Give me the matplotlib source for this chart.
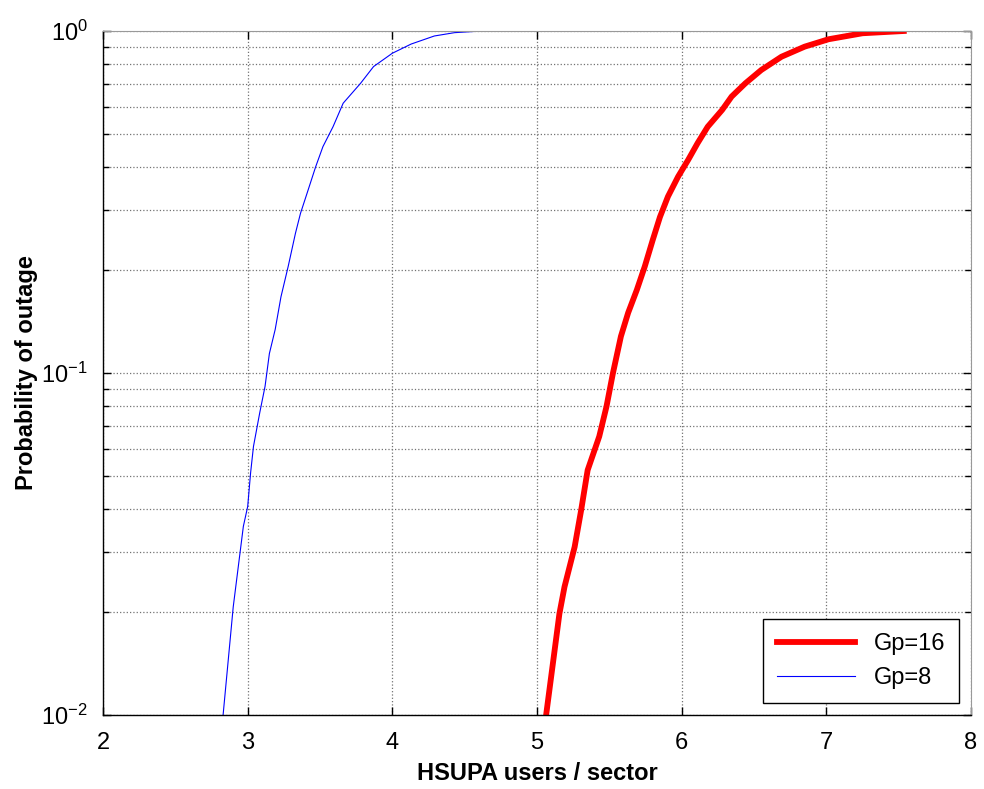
import matplotlib
matplotlib.use("Agg")
import matplotlib.pyplot as plt
from matplotlib.ticker import LogLocator, NullFormatter

plt.rcParams['font.family'] = ['Liberation Sans', 'DejaVu Sans']
plt.rcParams['mathtext.default'] = 'regular'
plt.rcParams['axes.unicode_minus'] = False

# Outage probability vs number of HSUPA users per sector
gp16_users = [5.063, 5.155, 5.19, 5.26, 5.305, 5.35, 5.43, 5.48, 5.525, 5.58, 5.63,
              5.69, 5.745, 5.80, 5.85, 5.905, 5.975, 6.045, 6.11, 6.18, 6.28, 6.345,
              6.44, 6.55, 6.69, 6.85, 7.015, 7.25, 7.535]
gp16_prob = [0.01, 0.0198, 0.0237, 0.031, 0.0397, 0.052, 0.0652, 0.0797, 0.1, 0.128, 0.15,
             0.175, 0.205, 0.245, 0.286, 0.328, 0.375, 0.42, 0.47, 0.525, 0.588, 0.643,
             0.703, 0.769, 0.841, 0.9, 0.946, 0.985, 1.0]

gp8_users = [2.83, 2.90, 2.97, 3.00, 3.02, 3.04, 3.083, 3.12, 3.15, 3.19, 3.23, 3.28,
             3.33, 3.365, 3.41, 3.47, 3.52, 3.59, 3.66, 3.78, 3.87, 4.0, 4.13, 4.29,
             4.43, 4.62]
gp8_prob = [0.01, 0.0207, 0.0356, 0.0407, 0.051, 0.061, 0.0764, 0.0914, 0.114, 0.134,
            0.167, 0.205, 0.256, 0.293, 0.335, 0.401, 0.459, 0.525, 0.615, 0.703, 0.787,
            0.861, 0.916, 0.967, 0.989, 1.0]

x_ticks = [2, 3, 4, 5, 6, 7, 8]

fig = plt.figure(figsize=(9.84, 7.89), dpi=100)
ax = fig.add_axes([0.1047, 0.0938, 0.8821, 0.8669])

ax.plot(gp16_users, gp16_prob, color='red', lw=4.2, label='Gp=16')
ax.plot(gp8_users, gp8_prob, color='blue', lw=0.8, label='Gp=8')

ax.set_yscale('log')
ax.set_xlim(2, 8)
ax.set_ylim(0.01, 1)
ax.set_xticks(x_ticks)
ax.yaxis.set_minor_locator(LogLocator(base=10, subs=range(2, 10)))
ax.yaxis.set_minor_formatter(NullFormatter())

ax.grid(True, which='major', color='0.45', ls=':', lw=0.9)
ax.grid(True, which='minor', axis='y', color='0.45', ls=':', lw=0.9)

ax.tick_params(which='both', direction='in', top=True, right=True,
               labelsize=17, width=1.0)
ax.tick_params(which='major', length=6)
ax.tick_params(which='minor', length=4)
ax.tick_params(axis='x', which='major', pad=12)
ax.tick_params(axis='y', which='major', pad=11)
for s in ['top', 'right']:
    ax.spines[s].set_color('0.6')
for s in ['left', 'bottom']:
    ax.spines[s].set_linewidth(1.0)

ax.set_xlabel('HSUPA users / sector', fontsize=17, fontweight='bold', labelpad=6)
ax.set_ylabel('Probability of outage', fontsize=17, fontweight='bold', labelpad=2)

leg = ax.legend(loc='lower right', fontsize=17, fancybox=False, framealpha=1,
                edgecolor='black', handlelength=3.3, borderaxespad=0.5,
                borderpad=0.6)
leg.get_frame().set_linewidth(1.0)

plt.savefig('out.png', dpi=100)
